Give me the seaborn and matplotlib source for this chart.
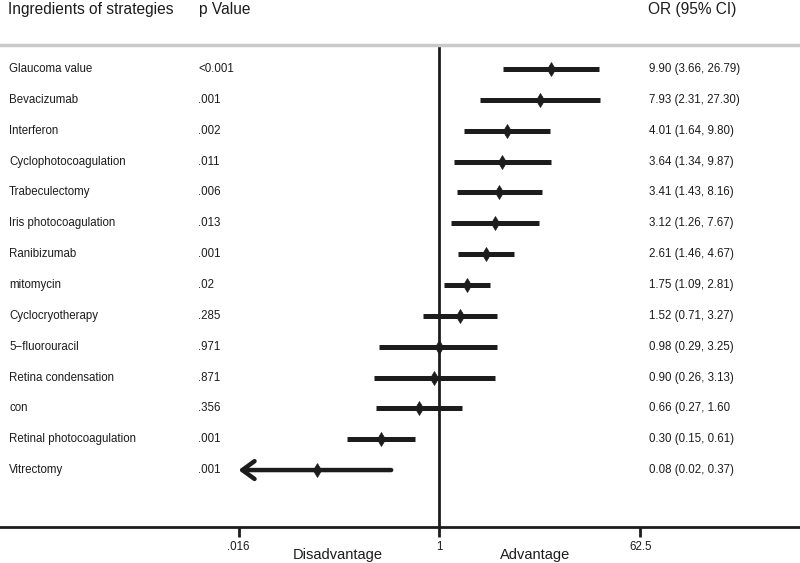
import numpy as np
import pandas as pd
import matplotlib
matplotlib.use("Agg")
import matplotlib.pyplot as plt
import matplotlib.transforms as mtransforms
import seaborn as sns

# dados
ingredientes = ["Glaucoma value", "Bevacizumab", "Interferon", "Cyclophotocoagulation",
                "Trabeculectomy", "Iris photocoagulation", "Ranibizumab", "mitomycin",
                "Cyclocryotherapy", "5\u2212fluorouracil", "Retina condensation", "con",
                "Retinal photocoagulation", "Vitrectomy"]
p_valor = ["<0.001", ".001", ".002", ".011", ".006", ".013", ".001", ".02",
           ".285", ".971", ".871", ".356", ".001", ".001"]
odds = [9.90, 7.93, 4.01, 3.64, 3.41, 3.12, 2.61, 1.75, 1.52, 0.98, 0.90, 0.66, 0.30, 0.08]
ic_inf = [3.66, 2.31, 1.64, 1.34, 1.43, 1.26, 1.46, 1.09, 0.71, 0.29, 0.26, 0.27, 0.15, 0.02]
ic_sup = [26.79, 27.30, 9.80, 9.87, 8.16, 7.67, 4.67, 2.81, 3.27, 3.25, 3.13, 1.60, 0.61, 0.37]
truncado = ["Vitrectomy"]  # IC cortado no limite do eixo (seta)
ticks_eixo = [0.016, 1, 62.5]
ticks_rotulos = [".016", "1", "62.5"]

dados = pd.DataFrame({"nome": ingredientes, "p": p_valor, "OR": odds,
                      "inf": ic_inf, "sup": ic_sup})
dados["linha"] = np.arange(len(dados))
dados["texto_or"] = [f"{o:.2f} ({a:.2f}, {b:.2f})" for o, a, b in zip(odds, ic_inf, ic_sup)]
dados.loc[dados["nome"] == "con", "texto_or"] = "0.66 (0.27, 1.60"

sns.set_theme(style="white")
plt.rcParams["font.family"] = ["Liberation Sans", "DejaVu Sans"]

cor = "#1c1c1c"
fig = plt.figure(figsize=(8, 5.63), dpi=100)
ax = fig.add_axes([0, 36 / 563, 1, 527 / 563])
ax.set_xscale("log")
ax.set_xlim(np.exp(-439.5 / 48.6), np.exp(360.5 / 48.6))
ax.set_ylim(14.846, -2.237)

# linhas de IC
normais = dados[~dados["nome"].isin(truncado)]
ax.hlines(normais["linha"], normais["inf"], normais["sup"], color=cor, lw=3.6)
for _, r in dados[dados["nome"].isin(truncado)].iterrows():
    ax.annotate("", xy=(ticks_eixo[0], r["linha"]), xytext=(r["sup"], r["linha"]),
                arrowprops=dict(arrowstyle="->,head_length=0.55,head_width=0.4",
                                color=cor, lw=3.2, mutation_scale=16,
                                shrinkA=0, shrinkB=0))

sns.scatterplot(data=dados, x="OR", y="linha", marker="d", s=50, color=cor,
                edgecolor=cor, linewidth=0.5, ax=ax, zorder=5, legend=False)

# linha de nulidade e cabeçalho
ax.vlines(1, -0.78, 14.846, color=cor, lw=2.0)
ax.axhline(-0.78, color="#c9c9c9", lw=2.5)

# eixo inferior
for lado in ["top", "left", "right"]:
    ax.spines[lado].set_visible(False)
ax.spines["bottom"].set_linewidth(2.0)
ax.spines["bottom"].set_color(cor)
ax.set_xticks(ticks_eixo)
ax.set_xticklabels(ticks_rotulos)
ax.xaxis.set_minor_locator(matplotlib.ticker.NullLocator())
ax.tick_params(axis="x", bottom=True, direction="out", length=7, width=2.0,
               color=cor, pad=3, labelsize=8.3, labelcolor=cor)
ax.set_yticks([])
ax.set_xlabel("")
ax.set_ylabel("")

# colunas de texto
trans = mtransforms.blended_transform_factory(ax.transAxes, ax.transData)
for _, r in dados.iterrows():
    ax.text(9 / 800, r["linha"], r["nome"], transform=trans, va="center", ha="left",
            fontsize=8.3, color=cor)
    ax.text(198 / 800, r["linha"], r["p"], transform=trans, va="center", ha="left",
            fontsize=8.3, color=cor)
    ax.text(649 / 800, r["linha"], r["texto_or"], transform=trans, va="center", ha="left",
            fontsize=8.3, color=cor)

y_cab = (9 - 69) / 30.85
ax.text(8 / 800, y_cab, "Ingredients of strategies", transform=trans, va="center",
        ha="left", fontsize=11.2, color=cor)
ax.text(199 / 800, y_cab, "p Value", transform=trans, va="center", ha="left",
        fontsize=11.2, color=cor)
ax.text(648 / 800, y_cab, "OR (95% CI)", transform=trans, va="center", ha="left",
        fontsize=11.2, color=cor)

fig.text(337.5 / 800, 1 - 555 / 563, "Disadvantage", ha="center", va="center",
         fontsize=10.5, color=cor)
fig.text(535 / 800, 1 - 555 / 563, "Advantage", ha="center", va="center",
         fontsize=10.5, color=cor)

fig.savefig("out.png", dpi=100)
